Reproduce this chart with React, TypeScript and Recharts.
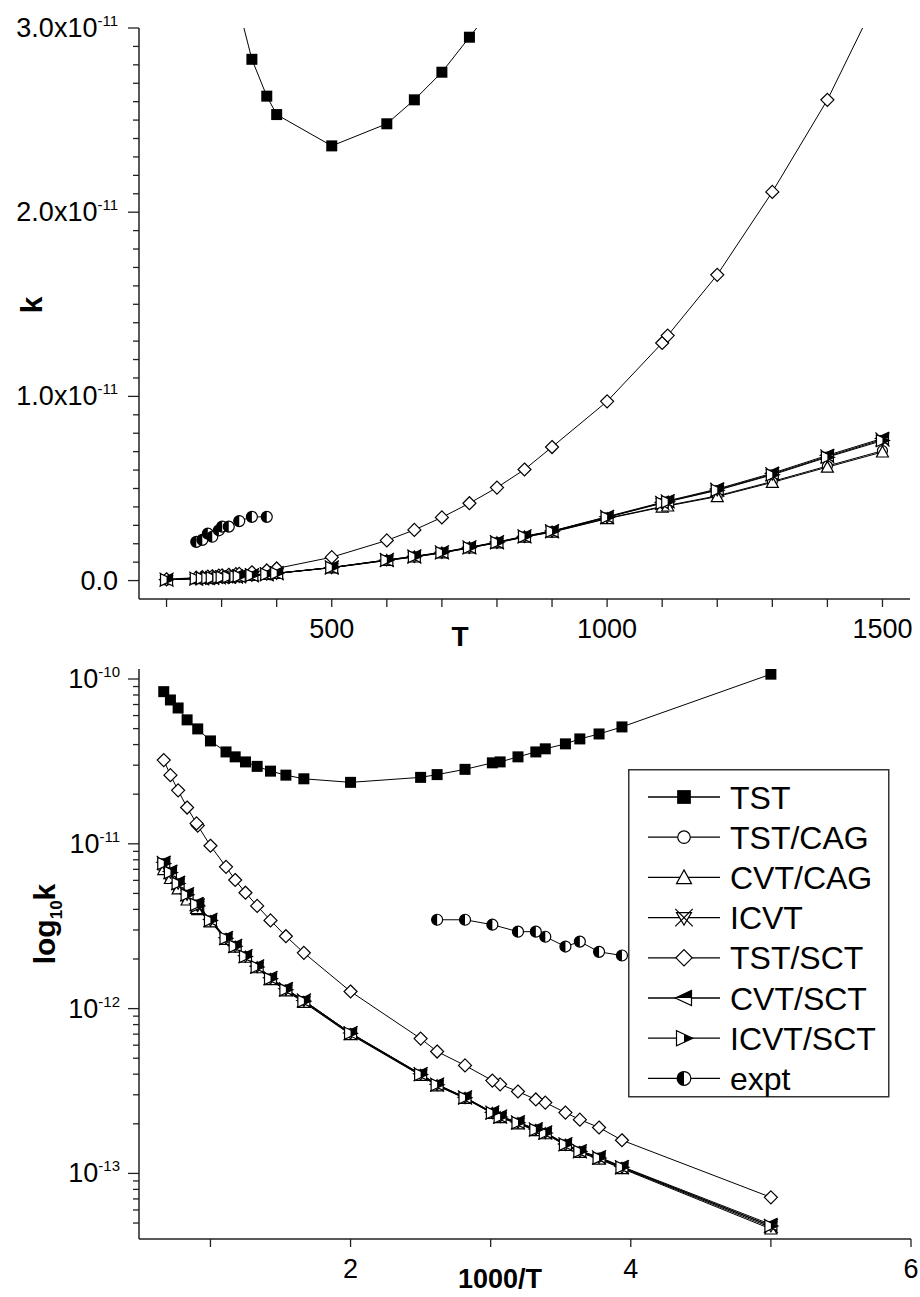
import React from 'react';
import { LineChart, Line, XAxis, YAxis, Legend } from 'recharts';

// temperatures (K) shared by all series
const temps = [200, 254, 265, 275, 283, 295, 301, 313, 326, 332, 355, 382, 400, 500, 600, 650, 700, 750, 800, 850, 900, 1000, 1100, 1110, 1200, 1300, 1400, 1500];

// rate constants (cm3 molecule-1 s-1)
const tst = [1.07e-10, 5.12e-11, 4.64e-11, 4.33e-11, 4.04e-11, 3.77e-11, 3.61e-11, 3.37e-11, 3.14e-11, 3.10e-11, 2.83e-11, 2.63e-11, 2.53e-11, 2.36e-11, 2.48e-11, 2.61e-11, 2.76e-11, 2.95e-11, 3.14e-11, 3.37e-11, 3.61e-11, 4.21e-11, 4.98e-11, null, 5.65e-11, 6.67e-11, 7.46e-11, 8.38e-11];
const tstCag = [4.7e-14, 1.08e-13, 1.23e-13, 1.35e-13, 1.49e-13, 1.75e-13, 1.83e-13, 2.01e-13, 2.19e-13, 2.32e-13, 2.86e-13, 3.42e-13, 3.95e-13, 7.0e-13, 1.1e-12, 1.29e-12, 1.51e-12, 1.78e-12, 2.06e-12, 2.37e-12, 2.64e-12, 3.38e-12, 4.02e-12, 4.08e-12, 4.6e-12, 5.38e-12, 6.22e-12, 7.05e-12];
const cvtCag = [4.6e-14, 1.07e-13, 1.22e-13, 1.34e-13, 1.48e-13, 1.74e-13, 1.82e-13, 2.0e-13, 2.18e-13, 2.31e-13, 2.85e-13, 3.4e-13, 3.93e-13, 6.95e-13, 1.09e-12, 1.28e-12, 1.5e-12, 1.77e-12, 2.05e-12, 2.36e-12, 2.63e-12, 3.36e-12, 3.99e-12, 4.05e-12, 4.56e-12, 5.33e-12, 6.16e-12, 6.98e-12];
const icvt = [4.8e-14, 1.09e-13, 1.25e-13, 1.36e-13, 1.5e-13, 1.77e-13, 1.85e-13, 2.04e-13, 2.21e-13, 2.34e-13, 2.89e-13, 3.46e-13, 4.0e-13, 7.1e-13, 1.12e-12, 1.31e-12, 1.53e-12, 1.8e-12, 2.08e-12, 2.4e-12, 2.68e-12, 3.45e-12, 4.22e-12, 4.3e-12, 4.93e-12, 5.78e-12, 6.74e-12, 7.66e-12];
const tstSct = [7.16e-14, 1.59e-13, 1.9e-13, 2.12e-13, 2.34e-13, 2.69e-13, 2.81e-13, 3.14e-13, 3.47e-13, 3.66e-13, 4.52e-13, 5.49e-13, 6.58e-13, 1.27e-12, 2.18e-12, 2.75e-12, 3.43e-12, 4.2e-12, 5.05e-12, 6.03e-12, 7.25e-12, 9.73e-12, 1.29e-11, 1.33e-11, 1.66e-11, 2.11e-11, 2.61e-11, 3.22e-11];
const cvtSct = [4.9e-14, 1.1e-13, 1.26e-13, 1.37e-13, 1.51e-13, 1.78e-13, 1.86e-13, 2.05e-13, 2.22e-13, 2.35e-13, 2.9e-13, 3.47e-13, 4.02e-13, 7.12e-13, 1.12e-12, 1.32e-12, 1.54e-12, 1.81e-12, 2.09e-12, 2.41e-12, 2.69e-12, 3.47e-12, 4.25e-12, 4.33e-12, 4.97e-12, 5.83e-12, 6.8e-12, 7.72e-12];
const icvtSct = [4.8e-14, 1.09e-13, 1.24e-13, 1.36e-13, 1.5e-13, 1.76e-13, 1.84e-13, 2.03e-13, 2.2e-13, 2.33e-13, 2.88e-13, 3.45e-13, 3.98e-13, 7.08e-13, 1.11e-12, 1.3e-12, 1.52e-12, 1.79e-12, 2.07e-12, 2.39e-12, 2.67e-12, 3.43e-12, 4.2e-12, 4.28e-12, 4.9e-12, 5.74e-12, 6.7e-12, 7.6e-12];
const expt = [null, 2.1e-12, 2.21e-12, 2.55e-12, 2.38e-12, 2.73e-12, 2.93e-12, 2.93e-12, null, 3.23e-12, 3.46e-12, 3.46e-12, null, null, null, null, null, null, null, null, null, null, null, null, null, null, null, null];

const seriesKeys = ['tst', 'tstCag', 'cvtCag', 'icvt', 'tstSct', 'cvtSct', 'icvtSct', 'expt'];
const seriesNames = ['TST', 'TST/CAG', 'CVT/CAG', 'ICVT', 'TST/SCT', 'CVT/SCT', 'ICVT/SCT', 'expt'];
const seriesMarkers = ['square', 'circle', 'triangle', 'star', 'diamond', 'left', 'right', 'half'];
const seriesValues = [tst, tstCag, cvtCag, icvt, tstSct, cvtSct, icvtSct, expt];

// axis ticks
const topXTicks = [200, 300, 400, 500, 600, 700, 800, 900, 1000, 1100, 1200, 1300, 1400, 1500];
const topXLabels = [500, 1000, 1500];
const topYMajor = [0, 1e-11, 2e-11, 3e-11];
const topYLabels = [['0.0', ''], ['1.0x10', '-11'], ['2.0x10', '-11'], ['3.0x10', '-11']];
const topYTicks = Array.from({ length: 31 }, (_, i) => i * 1e-12);
const botXTicks = [1, 2, 3, 4, 5, 6];
const botXLabels = [2, 4, 6];
const botYMajor = [1e-10, 1e-11, 1e-12, 1e-13];
const botYLabels = ['-10', '-11', '-12', '-13'];
const botYTicks = [
  ...[5, 6, 7, 8, 9].map((m) => m * 1e-14),
  ...[1, 2, 3, 4, 5, 6, 7, 8, 9].map((m) => m * 1e-13),
  ...[1, 2, 3, 4, 5, 6, 7, 8, 9].map((m) => m * 1e-12),
  ...[1, 2, 3, 4, 5, 6, 7, 8, 9].map((m) => m * 1e-11),
  1e-10,
];

const rows = temps.map((T, i) => {
  const row: any = { T, invT: 1000 / T };
  seriesKeys.forEach((k, j) => { row[k] = seriesValues[j][i]; });
  return row;
});

const FONT = '"Liberation Sans", Arial, sans-serif';
const AX = '#222';

const Marker = ({ kind, cx, cy, s = 1 }: any) => {
  const st = { stroke: '#000', strokeWidth: 1.2 };
  const p = (pts: number[][]) => pts.map(([a, b]) => `${cx + a * s},${cy + b * s}`).join(' ');
  switch (kind) {
    case 'square':
      return <rect x={cx - 5.5 * s} y={cy - 5.5 * s} width={11 * s} height={11 * s} fill="#000" />;
    case 'circle':
      return <circle cx={cx} cy={cy} r={5 * s} fill="#fff" {...st} />;
    case 'triangle':
      return <polygon points={p([[0, -6], [6, 5], [-6, 5]])} fill="#fff" {...st} />;
    case 'star':
      return (
        <g>
          <polygon points={p([[-6, -4], [6, -4], [0, 6]])} fill="#fff" {...st} />
          <line x1={cx - 7 * s} y1={cy - 7 * s} x2={cx + 7 * s} y2={cy + 7 * s} {...st} />
          <line x1={cx + 7 * s} y1={cy - 7 * s} x2={cx - 7 * s} y2={cy + 7 * s} {...st} />
        </g>
      );
    case 'diamond':
      return <polygon points={p([[0, -6.5], [6.5, 0], [0, 6.5], [-6.5, 0]])} fill="#fff" {...st} />;
    case 'left':
      return (
        <g>
          <polygon points={p([[-7, 0], [6, -6], [6, 6]])} fill="#fff" {...st} />
          <polygon points={p([[-7, 0], [6, -6], [6, 0]])} fill="#000" />
        </g>
      );
    case 'right':
      return (
        <g>
          <polygon points={p([[7, 0], [-6, -6], [-6, 6]])} fill="#fff" {...st} />
          <polygon points={p([[7, 0], [0, -3.2], [0, 3.2]])} fill="#000" />
        </g>
      );
    case 'half':
      return (
        <g>
          <circle cx={cx} cy={cy} r={5.5 * s} fill="#fff" {...st} />
          <path d={`M${cx},${cy - 5.5 * s} A${5.5 * s},${5.5 * s} 0 0,0 ${cx},${cy + 5.5 * s} Z`} fill="#000" />
        </g>
      );
    default:
      return null;
  }
};

const dotFor = (kind: string) => (props: any) => {
  const { cx, cy, index, value } = props;
  if (cx == null || cy == null || value == null || Number.isNaN(cy)) return <g key={`d${index}`} />;
  return (
    <g key={`d${index}`}>
      <Marker kind={kind} cx={cx} cy={cy} />
    </g>
  );
};

const TopXTick = ({ x, y, payload }: any) => (
  <g>
    <line x1={x} y1={y} x2={x} y2={y + 8} stroke={AX} strokeWidth={1.3} />
    {topXLabels.includes(payload.value) && (
      <text x={x} y={y + 39} textAnchor="middle" fontSize={27} fontFamily={FONT} fill="#000">
        {payload.value}
      </text>
    )}
  </g>
);

const TopYTick = ({ x, y, payload }: any) => {
  const idx = topYMajor.findIndex((m) => Math.abs(m - payload.value) < 1e-16);
  const major = idx >= 0;
  return (
    <g>
      <line x1={x - (major ? 11 : 6)} y1={y} x2={x} y2={y} stroke={AX} strokeWidth={1.3} />
      {major && (
        <text x={x - 21} y={y + 9} textAnchor="end" fontSize={27} fontFamily={FONT} fill="#000">
          {topYLabels[idx][0]}
          {topYLabels[idx][1] && (
            <tspan dy={-11} fontSize={15}>
              {topYLabels[idx][1]}
            </tspan>
          )}
        </text>
      )}
    </g>
  );
};

const BotXTick = ({ x, y, payload }: any) => (
  <g>
    <line x1={x} y1={y} x2={x} y2={y + 8} stroke={AX} strokeWidth={1.3} />
    {botXLabels.includes(payload.value) && (
      <text x={x} y={y + 39} textAnchor="middle" fontSize={27} fontFamily={FONT} fill="#000">
        {payload.value}
      </text>
    )}
  </g>
);

const BotYTick = ({ x, y, payload }: any) => {
  const idx = botYMajor.findIndex((m) => Math.abs(Math.log10(m) - Math.log10(payload.value)) < 1e-6);
  const major = idx >= 0;
  return (
    <g>
      <line x1={x - (major ? 11 : 6)} y1={y} x2={x} y2={y} stroke={AX} strokeWidth={1.3} />
      {major && (
        <text x={x - 19} y={y + 9} textAnchor="end" fontSize={27} fontFamily={FONT} fill="#000">
          10
          <tspan dy={-11} fontSize={15}>
            {botYLabels[idx]}
          </tspan>
        </text>
      )}
    </g>
  );
};

const LegendBox = () => (
  <svg width={262} height={330} style={{ display: 'block' }}>
    <rect x={0.75} y={0.75} width={260} height={327} fill="#fff" stroke="#333" strokeWidth={1.5} />
    {seriesNames.map((name, i) => {
      const cy = 28 + i * 40.2;
      return (
        <g key={name}>
          <line x1={20} x2={92} y1={cy} y2={cy} stroke="#000" strokeWidth={1.3} />
          <Marker kind={seriesMarkers[i]} cx={56} cy={cy} s={1.25} />
          <text x={102} y={cy + 11.5} fontSize={32} fontFamily={FONT} fill="#000">
            {name}
          </text>
        </g>
      );
    })}
  </svg>
);

const renderLines = () =>
  seriesKeys.map((k, i) => (
    <Line
      key={k}
      dataKey={k}
      name={seriesNames[i]}
      type="linear"
      stroke="#000"
      strokeWidth={1}
      dot={dotFor(seriesMarkers[i])}
      activeDot={false}
      connectNulls
      isAnimationActive={false}
    />
  ));

const App = () => (
  <div style={{ position: 'absolute', left: 0, top: 0, width: 920, height: 1297, background: '#fff', overflow: 'hidden' }}>
    <div style={{ position: 'absolute', left: 0, top: 0 }}>
      <LineChart width={920} height={660} data={rows} margin={{ top: 28, right: 10, left: 0, bottom: 21 }}>
        <XAxis
          dataKey="T"
          type="number"
          domain={[150, 1550]}
          allowDataOverflow
          ticks={topXTicks}
          interval={0}
          tick={<TopXTick />}
          tickLine={false}
          tickSize={0}
          tickMargin={0}
          height={40}
          axisLine={{ stroke: AX, strokeWidth: 1.5 }}
          label={{
            content: () => (
              <text x={460} y={646} textAnchor="middle" fontSize={28} fontWeight="bold" fontFamily={FONT} fill="#000">
                T
              </text>
            ),
          }}
        />
        <YAxis
          type="number"
          domain={[-1e-12, 3e-11]}
          allowDataOverflow
          ticks={topYTicks}
          interval={0}
          tick={<TopYTick />}
          tickLine={false}
          tickSize={0}
          tickMargin={0}
          width={139}
          axisLine={{ stroke: AX, strokeWidth: 1.5 }}
          label={{
            content: () => (
              <text
                x={42}
                y={305}
                transform="rotate(-90 42 305)"
                textAnchor="middle"
                fontSize={30}
                fontWeight="bold"
                fontFamily={FONT}
                fill="#000"
              >
                k
              </text>
            ),
          }}
        />
        {renderLines()}
      </LineChart>
    </div>
    <div style={{ position: 'absolute', left: 0, top: 640 }}>
      <LineChart width={920} height={657} data={rows} margin={{ top: 29, right: 9, left: 0, bottom: 8 }}>
        <XAxis
          dataKey="invT"
          type="number"
          domain={[0.49, 6]}
          allowDataOverflow
          ticks={botXTicks}
          interval={0}
          tick={<BotXTick />}
          tickLine={false}
          tickSize={0}
          tickMargin={0}
          height={50}
          axisLine={{ stroke: AX, strokeWidth: 1.5 }}
          label={{
            content: () => (
              <text x={500} y={648} textAnchor="middle" fontSize={27} fontWeight="bold" fontFamily={FONT} fill="#000">
                1000/T
              </text>
            ),
          }}
        />
        <YAxis
          type="number"
          scale="log"
          domain={[4e-14, 1.15e-10]}
          allowDataOverflow
          ticks={botYTicks}
          interval={0}
          tick={<BotYTick />}
          tickLine={false}
          tickSize={0}
          tickMargin={0}
          width={139}
          axisLine={{ stroke: AX, strokeWidth: 1.5 }}
          label={{
            content: () => (
              <text
                x={55}
                y={284}
                transform="rotate(-90 55 284)"
                textAnchor="middle"
                fontSize={30}
                fontWeight="bold"
                fontFamily={FONT}
                fill="#000"
              >
                log
                <tspan dy={7} fontSize={17}>
                  10
                </tspan>
                <tspan dy={-7}>k</tspan>
              </text>
            ),
          }}
        />
        <Legend
          content={<LegendBox />}
          layout="vertical"
          align="center"
          verticalAlign="middle"
          wrapperStyle={{ left: 628, top: 129, width: 262, height: 330 }}
        />
        {renderLines()}
      </LineChart>
    </div>
  </div>
);

export default App;
